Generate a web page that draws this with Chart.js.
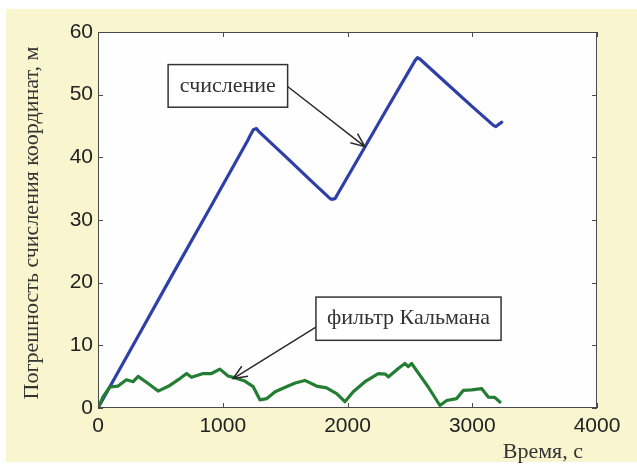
<!DOCTYPE html>
<html>
<head>
<meta charset="utf-8">
<script src="https://cdn.jsdelivr.net/npm/chart.js@4.4.0/dist/chart.umd.min.js"></script>
<style>
  html, body { margin: 0; padding: 0; background: #fff; }
  canvas { display: block; }
</style>
</head>
<body>
<canvas id="errChart" width="637" height="466"></canvas>
<script>
// dead reckoning error (blue), time in s, error in m
const reckonTime = [0, 300, 600, 900, 1200, 1220, 1245, 1270, 1290, 1500, 1700, 1850, 1870, 1900, 1920, 2100, 2300, 2540, 2560, 2580, 2800, 3000, 3170, 3190, 3215, 3236];
const reckonErr  = [0, 10.7, 21.4, 32.0, 42.7, 43.5, 44.4, 44.6, 44.1, 40.2, 36.4, 33.6, 33.3, 33.4, 34.1, 40.3, 47.2, 55.4, 55.9, 55.7, 51.7, 48.1, 45.1, 44.9, 45.3, 45.6];

// Kalman filter error (green)
const kalmanTime = [0, 41, 95, 161, 228, 282, 322, 402, 482, 576, 650, 710, 750, 843, 910, 977, 1043, 1100, 1177, 1244, 1298, 1353, 1420, 1501, 1581, 1658, 1752, 1832, 1913, 1979, 2046, 2140, 2247, 2304, 2327, 2407, 2460, 2487, 2514, 2581, 2647, 2741, 2795, 2875, 2928, 2995, 3075, 3128, 3180, 3222];
const kalmanErr  = [0, 1.8, 3.35, 3.5, 4.5, 4.2, 5.05, 3.9, 2.7, 3.6, 4.6, 5.5, 4.9, 5.5, 5.5, 6.2, 5.1, 4.8, 4.3, 3.4, 1.3, 1.5, 2.6, 3.3, 4.0, 4.4, 3.5, 3.2, 2.3, 1.0, 2.6, 4.2, 5.5, 5.4, 4.95, 6.3, 7.1, 6.6, 7.1, 5.2, 3.35, 0.4, 1.2, 1.5, 2.8, 2.9, 3.1, 1.75, 1.7, 0.95];

const xTicks = [0, 1000, 2000, 3000, 4000];
const yTicks = [0, 10, 20, 30, 40, 50, 60];

const xTitle = "Время, с";
const yTitle = "Погрешность счисления координат, м";

// callout boxes: [x1, x2, yTop, yBottom] in data units, arrow from -> to
const notes = [
  { text: "счисление", box: [562, 1520, 54.8, 48.0], from: [1520, 51.3], to: [2139, 41.7] },
  { text: "фильтр Кальмана", box: [1747, 3231, 17.7, 10.8], from: [1747, 12.9], to: [1083, 4.7] }
];

const toPts = (xs, ys) => xs.map((x, i) => ({ x: x, y: ys[i] }));

const frame = {
  id: "frame",
  beforeDraw(chart) {
    const { ctx, chartArea: a } = chart;
    ctx.save();
    ctx.fillStyle = "#ffffff";
    ctx.fillRect(0, 0, chart.width, chart.height);
    ctx.fillStyle = "#f9f5cf";
    ctx.fillRect(6, 9, chart.width - 6, chart.height - 13);
    ctx.fillStyle = "#fefefe";
    ctx.fillRect(a.left, a.top, a.right - a.left, a.bottom - a.top);
    ctx.restore();
  },
  afterDraw(chart) {
    const { ctx, chartArea: a } = chart;
    const xs = chart.scales.x, ys = chart.scales.y;
    ctx.save();

    // box + inward ticks on all sides
    ctx.strokeStyle = "#4a4a4a";
    ctx.lineWidth = 1;
    ctx.strokeRect(a.left + 0.5, a.top + 0.5, a.right - a.left - 1, a.bottom - a.top - 1);
    ctx.beginPath();
    xs.ticks.forEach(t => {
      const px = Math.round(xs.getPixelForValue(t.value)) + 0.5;
      ctx.moveTo(px, a.bottom); ctx.lineTo(px, a.bottom - 5);
      ctx.moveTo(px, a.top); ctx.lineTo(px, a.top + 5);
    });
    ys.ticks.forEach(t => {
      const py = Math.round(ys.getPixelForValue(t.value)) + 0.5;
      ctx.moveTo(a.left, py); ctx.lineTo(a.left + 5, py);
      ctx.moveTo(a.right, py); ctx.lineTo(a.right - 5, py);
    });
    ctx.stroke();

    // axis titles
    ctx.fillStyle = "#333";
    ctx.font = '22px "Liberation Serif"';
    ctx.textBaseline = "middle";
    ctx.textAlign = "right";
    ctx.fillText(xTitle, a.right - 14, 452);
    ctx.translate(32, (a.top + a.bottom) / 2 + 3);
    ctx.rotate(-Math.PI / 2);
    ctx.textAlign = "center";
    ctx.fillText(yTitle, 0, 0);
    ctx.setTransform(1, 0, 0, 1, 0, 0);

    // callouts
    notes.forEach(n => {
      const x1 = xs.getPixelForValue(n.box[0]), x2 = xs.getPixelForValue(n.box[1]);
      const y1 = ys.getPixelForValue(n.box[2]), y2 = ys.getPixelForValue(n.box[3]);
      const fx = xs.getPixelForValue(n.from[0]), fy = ys.getPixelForValue(n.from[1]);
      const tx = xs.getPixelForValue(n.to[0]), ty = ys.getPixelForValue(n.to[1]);

      ctx.strokeStyle = "#2a2a2a";
      ctx.lineWidth = 1.5;
      ctx.beginPath();
      ctx.moveTo(fx, fy); ctx.lineTo(tx, ty);
      const ang = Math.atan2(ty - fy, tx - fx);
      const len = 15, spread = 0.4;
      ctx.moveTo(tx - len * Math.cos(ang - spread), ty - len * Math.sin(ang - spread));
      ctx.lineTo(tx, ty);
      ctx.lineTo(tx - len * Math.cos(ang + spread), ty - len * Math.sin(ang + spread));
      ctx.stroke();

      ctx.fillStyle = "#ffffff";
      ctx.fillRect(x1, y1, x2 - x1, y2 - y1);
      ctx.strokeStyle = "#333";
      ctx.lineWidth = 1.5;
      ctx.strokeRect(x1, y1, x2 - x1, y2 - y1);
      ctx.fillStyle = "#333";
      ctx.font = '22px "Liberation Serif"';
      ctx.textAlign = "center";
      ctx.textBaseline = "middle";
      ctx.fillText(n.text, (x1 + x2) / 2, (y1 + y2) / 2);
    });
    ctx.restore();
  }
};

const tickFont = { family: '"Liberation Sans", Arial, sans-serif', size: 21 };

new Chart(document.getElementById("errChart"), {
  type: "line",
  data: {
    datasets: [
      { label: "фильтр Кальмана", data: toPts(kalmanTime, kalmanErr), borderColor: "#237d32", borderWidth: 3.2 },
      { label: "счисление", data: toPts(reckonTime, reckonErr), borderColor: "#2e40a8", borderWidth: 3.2 }
    ]
  },
  options: {
    responsive: false,
    devicePixelRatio: 1,
    animation: false,
    layout: { padding: { left: 0, right: 40, top: 32, bottom: 0 } },
    plugins: { legend: { display: false }, tooltip: { enabled: false } },
    elements: {
      point: { radius: 0 },
      line: { tension: 0, borderJoinStyle: "round", borderCapStyle: "round" }
    },
    scales: {
      x: {
        type: "linear", min: 0, max: 4000,
        afterBuildTicks: s => { s.ticks = xTicks.map(v => ({ value: v })); },
        afterFit: s => { s.height = 58; },
        grid: { display: false, drawTicks: false },
        border: { display: false },
        ticks: { padding: 6, color: "#222", font: tickFont, maxRotation: 0, callback: v => String(v) }
      },
      y: {
        type: "linear", min: 0, max: 60,
        afterBuildTicks: s => { s.ticks = yTicks.map(v => ({ value: v })); },
        afterFit: s => { s.width = 98; },
        grid: { display: false, drawTicks: false },
        border: { display: false },
        ticks: { padding: 5, color: "#222", font: tickFont, callback: v => String(v) }
      }
    }
  },
  plugins: [frame]
});
</script>
</body>
</html>
